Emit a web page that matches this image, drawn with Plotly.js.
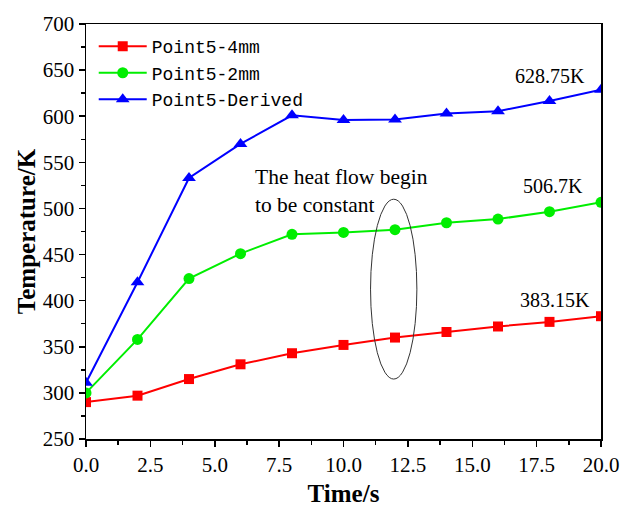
<!DOCTYPE html>
<html>
<head>
<meta charset="utf-8">
<script src="https://cdn.plot.ly/plotly-3.0.1.min.js"></script>
<style>html,body{margin:0;padding:0;background:#fff;}#chart{width:620px;height:507px;}</style>
</head>
<body>
<div id="chart"></div>
<script>
const time = [0, 2, 4, 6, 8, 10, 12, 14, 16, 18, 20];
const point4mm = [290, 297, 315, 331, 343, 352, 360, 366, 372, 377, 383.15];
const point2mm = [300, 358, 424, 451, 472, 474, 477, 484.5, 488.5, 496.5, 506.7];
const pointDerived = [311, 420, 533, 570, 601, 596, 596.5, 603, 605.5, 616.5, 628.75];
const seriesNames = ['Point5-4mm', 'Point5-2mm', 'Point5-Derived'];
const endLabels = ['383.15K', '506.7K', '628.75K'];
const noteLines = ['The heat flow begin', 'to be constant'];

const serif = 'Liberation Serif, Times New Roman, serif';
const mono = 'Liberation Mono, Courier New, monospace';

const traces = [
  {x: time, y: point4mm, name: seriesNames[0], mode: 'lines+markers',
   line: {color: '#ff0000', width: 2}, marker: {symbol: 'square', size: 10, color: '#ff0000'}},
  {x: time, y: point2mm, name: seriesNames[1], mode: 'lines+markers',
   line: {color: '#00ee00', width: 2}, marker: {symbol: 'circle', size: 11, color: '#00ee00'}},
  {x: time, y: pointDerived, name: seriesNames[2], mode: 'lines+markers',
   line: {color: '#0000ff', width: 2}, marker: {symbol: 'triangle-up', size: 12, color: '#0000ff'}}
];

const last = time.length - 1;
const annotations = [
  {x: time[last], y: point4mm[last], text: endLabels[0], xanchor: 'right', yanchor: 'bottom', xshift: -9, yshift: 3, font: {family: serif, size: 20, color: '#000'}},
  {x: time[last], y: point2mm[last], text: endLabels[1], xanchor: 'right', yanchor: 'bottom', xshift: -16, yshift: 3, font: {family: serif, size: 20, color: '#000'}},
  {x: time[last], y: pointDerived[last], text: endLabels[2], xanchor: 'right', yanchor: 'bottom', xshift: -14, yshift: 1, font: {family: serif, size: 20, color: '#000'}},
  {x: 6.5, y: 549, text: noteLines.join('<br>'), xanchor: 'left', yanchor: 'top', align: 'left', font: {family: serif, size: 21.5, color: '#000'}}
].map(a => Object.assign({showarrow: false, xref: 'x', yref: 'y'}, a));

const layout = {
  width: 620, height: 507,
  margin: {l: 86, r: 19, t: 24, b: 68},
  paper_bgcolor: '#fff', plot_bgcolor: '#fff',
  showlegend: true,
  legend: {x: 0.015, y: 0.99, xanchor: 'left', yanchor: 'top', bgcolor: 'rgba(0,0,0,0)',
           font: {family: mono, size: 18, color: '#000'}, itemwidth: 48, tracegroupgap: 0},
  xaxis: {range: [0, 20], tickvals: [0, 2.5, 5, 7.5, 10, 12.5, 15, 17.5, 20],
          ticktext: ['0.0','2.5','5.0','7.5','10.0','12.5','15.0','17.5','20.0'],
          ticks: 'outside', ticklen: 6, tickwidth: 1.5, tickcolor: '#000',
          minor: {dtick: 1.25, ticks: 'outside', ticklen: 4, tickwidth: 1.5, tickcolor: '#000', showgrid: false},
          showline: true, linecolor: '#000', linewidth: 1.5, mirror: true, showgrid: false, zeroline: false,
          tickfont: {family: serif, size: 21, color: '#000'},
          title: {text: '<b>Time/s</b>', font: {family: serif, size: 25, color: '#000'}, standoff: 18}},
  yaxis: {range: [250, 700], dtick: 50,
          ticks: 'outside', ticklen: 6, tickwidth: 1.5, tickcolor: '#000',
          minor: {dtick: 25, ticks: 'outside', ticklen: 4, tickwidth: 1.5, tickcolor: '#000', showgrid: false},
          showline: true, linecolor: '#000', linewidth: 1.5, mirror: true, showgrid: false, zeroline: false,
          tickfont: {family: serif, size: 21, color: '#000'},
          title: {text: '<b>Temperature/K</b>', font: {family: serif, size: 25, color: '#000'}, standoff: 0}},
  shapes: [{type: 'circle', xref: 'x', yref: 'y', x0: 11.05, x1: 12.85, y0: 315, y1: 510,
            line: {color: '#333', width: 1}}],
  annotations: annotations
};

Plotly.newPlot('chart', traces, layout, {displayModeBar: false, staticPlot: true});
</script>
</body>
</html>
